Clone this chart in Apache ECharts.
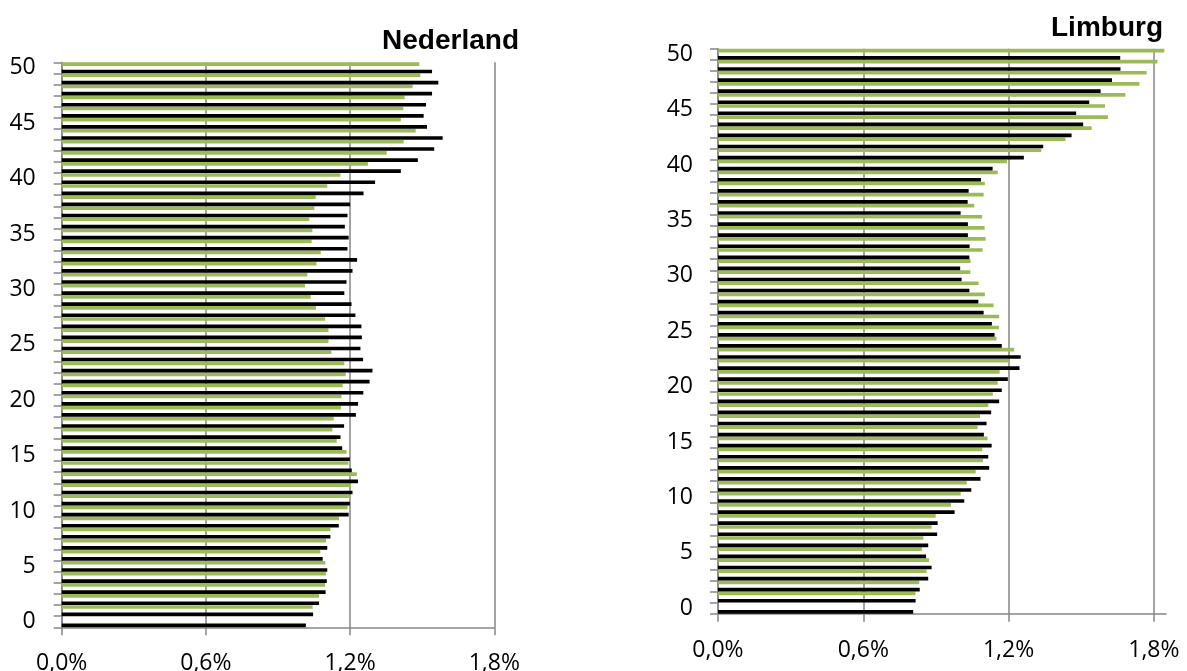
<!DOCTYPE html>
<html>
<head>
<meta charset="utf-8">
<script src="https://cdn.jsdelivr.net/npm/echarts@6/dist/echarts.min.js"></script>
<style>
html,body{margin:0;padding:0;background:#fff;}
#c{width:1187px;height:671px;}
</style>
</head>
<body>
<div id="c"></div>
<script>
// Categories (0..50)
var categories = [];
for (var i = 0; i <= 50; i++) categories.push(String(i));

// Tick labels of the value axes (percent)
var xTicks = [0, 0.6, 1.2, 1.8];

// Nederland
var nlBlack = [1.016,1.046,1.071,1.098,1.103,1.105,1.086,1.105,1.118,1.153,
  1.194,1.199,1.210,1.233,1.207,1.199,1.167,1.160,1.175,1.224,
  1.233,1.255,1.281,1.293,1.254,1.243,1.249,1.247,1.222,1.206,
  1.176,1.185,1.210,1.229,1.189,1.194,1.178,1.189,1.200,1.256,
  1.304,1.411,1.482,1.550,1.585,1.520,1.506,1.516,1.541,1.567,1.541];
var nlGreen = [null,1.044,1.071,1.096,1.099,1.097,1.076,1.100,1.118,1.154,
  1.190,1.201,1.204,1.228,1.193,1.185,1.144,1.126,1.132,1.162,
  1.164,1.169,1.182,1.176,1.122,1.110,1.110,1.096,1.058,1.036,
  1.012,1.022,1.060,1.078,1.040,1.043,1.030,1.051,1.057,1.105,
  1.160,1.274,1.352,1.423,1.473,1.411,1.421,1.427,1.460,1.492,1.488];

// Limburg
var liBlack = [0.806,0.816,0.833,0.868,0.882,0.859,0.868,0.905,0.907,0.977,
  1.017,1.046,1.084,1.120,1.116,1.130,1.098,1.109,1.128,1.161,
  1.172,1.197,1.245,1.250,1.172,1.142,1.131,1.097,1.075,1.038,
  1.006,1.000,1.038,1.039,1.032,1.032,1.002,1.031,1.035,1.086,
  1.134,1.263,1.343,1.460,1.508,1.479,1.533,1.580,1.627,1.662,1.661];
var liGreen = [null,0.815,0.831,0.861,0.872,0.842,0.848,0.882,0.899,0.962,
  1.002,1.027,1.064,1.094,1.091,1.113,1.072,1.082,1.116,1.135,
  1.155,1.163,1.204,1.223,1.150,1.160,1.161,1.138,1.102,1.076,
  1.042,1.043,1.093,1.105,1.101,1.091,1.058,1.097,1.102,1.155,
  1.193,1.335,1.435,1.543,1.610,1.598,1.682,1.740,1.770,1.815,1.843];

var titles = ['Nederland', 'Limburg'];

var GREY = '#868686';
var LABEL_FONT = "'Open Sans', 'Noto Sans', sans-serif";

function xAxis(gridIndex, max) {
  return {
    type: 'value', gridIndex: gridIndex, min: 0, max: max,
    axisLine: {show: true, lineStyle: {color: GREY, width: 1.5}},
    axisTick: {show: true, length: 8, customValues: xTicks, lineStyle: {color: GREY, width: 1.5}},
    splitLine: {show: true, lineStyle: {color: GREY, width: 1.5}},
    axisLabel: {
      customValues: xTicks, margin: 25,
      color: '#000', fontSize: 23, fontFamily: LABEL_FONT,
      formatter: function (v) { return v.toFixed(1).replace('.', ',') + '%'; }
    }
  };
}
function yAxis(gridIndex, margin) {
  return {
    type: 'category', gridIndex: gridIndex, data: categories,
    axisLine: {show: true, lineStyle: {color: GREY, width: 1.5}},
    axisTick: {show: true, interval: 0, length: 8, lineStyle: {color: GREY, width: 1.5}},
    splitLine: {show: false},
    axisLabel: {interval: 4, margin: margin, color: '#000', fontSize: 23, fontFamily: LABEL_FONT,
      padding: [4, 0, 0, 0]}
  };
}
function bars(idx, data, color) {
  return {
    type: 'bar', xAxisIndex: idx, yAxisIndex: idx, data: data,
    barWidth: '33%', barGap: '100%',
    itemStyle: {color: color}, silent: true
  };
}

var chart = echarts.init(document.getElementById('c'), null, {renderer: 'canvas'});
chart.setOption({
  animation: false,
  backgroundColor: '#fff',
  grid: [
    {left: 61.7, top: 62.3, width: 432.6, height: 565, outerBoundsMode: 'none', containLabel: false},
    {left: 718, top: 48.7, width: 448, height: 565, outerBoundsMode: 'none', containLabel: false}
  ],
  xAxis: [xAxis(0, 1.8), xAxis(1, 1.85)],
  yAxis: [yAxis(0, 26), yAxis(1, 25)],
  series: [
    bars(0, nlGreen, '#9BBB59'),
    bars(0, nlBlack, '#000000'),
    bars(1, liGreen, '#9BBB59'),
    bars(1, liBlack, '#000000')
  ],
  graphic: [
    {type: 'text', x: 519, y: 41.5, style: {text: titles[0], textAlign: 'right', textVerticalAlign: 'middle', fill: '#000', font: "bold 28px 'Liberation Sans', Arial, sans-serif"}},
    {type: 'text', x: 1163, y: 28.5, style: {text: titles[1], textAlign: 'right', textVerticalAlign: 'middle', fill: '#000', font: "bold 28px 'Liberation Sans', Arial, sans-serif"}}
  ]
});
</script>
</body>
</html>
